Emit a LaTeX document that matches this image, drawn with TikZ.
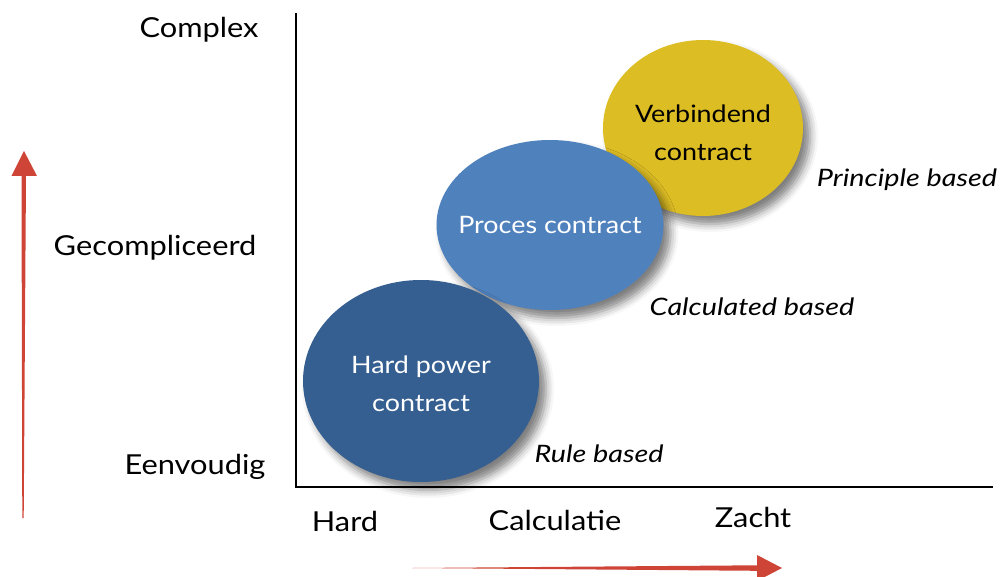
\documentclass[tikz,border=0pt]{standalone}
\usepackage{fontspec}
\setmainfont{Lato}[FakeStretch=1.12, ItalicFeatures={FakeStretch=1.2}]
\usetikzlibrary{shapes.geometric,shadows.blur,calc}
\definecolor{hardblue}{RGB}{54,95,145}
\definecolor{procblue}{RGB}{79,129,189}
\definecolor{verbyellow}{RGB}{221,189,36}
\definecolor{arrowred}{RGB}{206,69,56}
\begin{document}
\begin{tikzpicture}[x=1pt,y=-1pt,
  bubble/.style={ellipse, inner sep=-20pt, align=center,
    blur shadow={shadow xshift=7pt, shadow yshift=-8pt, shadow blur radius=8pt, shadow opacity=50},
    font=\fontsize{24}{38}\selectfont},
  axislabel/.style={font=\fontsize{27.5}{30}\selectfont},
  basis/.style={font=\fontsize{24}{28}\selectfont\itshape},
  axisline/.style={line width=2.5pt, line cap=rect}]
\useasboundingbox (0,0) rectangle (1000,577);

% axes
\coordinate (ytop) at (296,14);
\coordinate (origin) at (296,487);
\coordinate (xend) at (992,487);
\draw[axisline, black!25, shift={(1.5pt,-1.5pt)}] (ytop) -- (origin) -- (xend);
\draw[axisline] (ytop) -- (origin) -- (xend);

% contract types (later ones lie on top)
\node[bubble, fill=verbyellow, text=black, minimum width=200pt, minimum height=176pt] (verb) at (703,128) {\rule{0pt}{28pt}Verbindend\\contract};
\node[bubble, fill=procblue, text=white, minimum width=227pt, minimum height=170pt] (proc) at (550,225) {Proces contract};
\node[bubble, fill=hardblue, text=white, minimum width=236pt, minimum height=202pt] (hard) at (421,381) {\rule{0pt}{24pt}Hard power\\contract};

% vertical scale
\node[axislabel] (complex) at (199,30) {Complex};
\node[axislabel] (gecomp) at (155,248) {Gecompliceerd};
\node[axislabel] (eenv) at (195,467) {Eenvoudig};

% horizontal scale
\node[axislabel] (hardlbl) at (345,521) {Hard};
\node[axislabel] (calc) at (555,520) {Calculatie};
\node[axislabel] (zacht) at (753,517) {Zacht};

% basis labels
\node[basis] (principle) at (907,180) {Principle based};
\node[basis] (calcbased) at (752,307) {Calculated based};
\node[basis] (rule) at (599,454) {Rule based};

% red direction arrows
\coordinate (vtail) at (23,518);
\coordinate (vtip) at (24,151);
\fill[arrowred] (vtail) -- ++(-0.7,0) -- (21.5,176) -- (26,176) -- ($(vtail)+(0.7,0)$) -- cycle;
\fill[arrowred] (11.5,176) -- (vtip) -- (37,176) -- cycle;

\coordinate (htail) at (412,568);
\coordinate (htip) at (782,568);
\fill[arrowred] (htail) -- (757,565.3) -- (757,570.8) -- cycle;
\fill[arrowred] (757,555) -- (htip) -- (757,581) -- cycle;
\end{tikzpicture}
\end{document}
